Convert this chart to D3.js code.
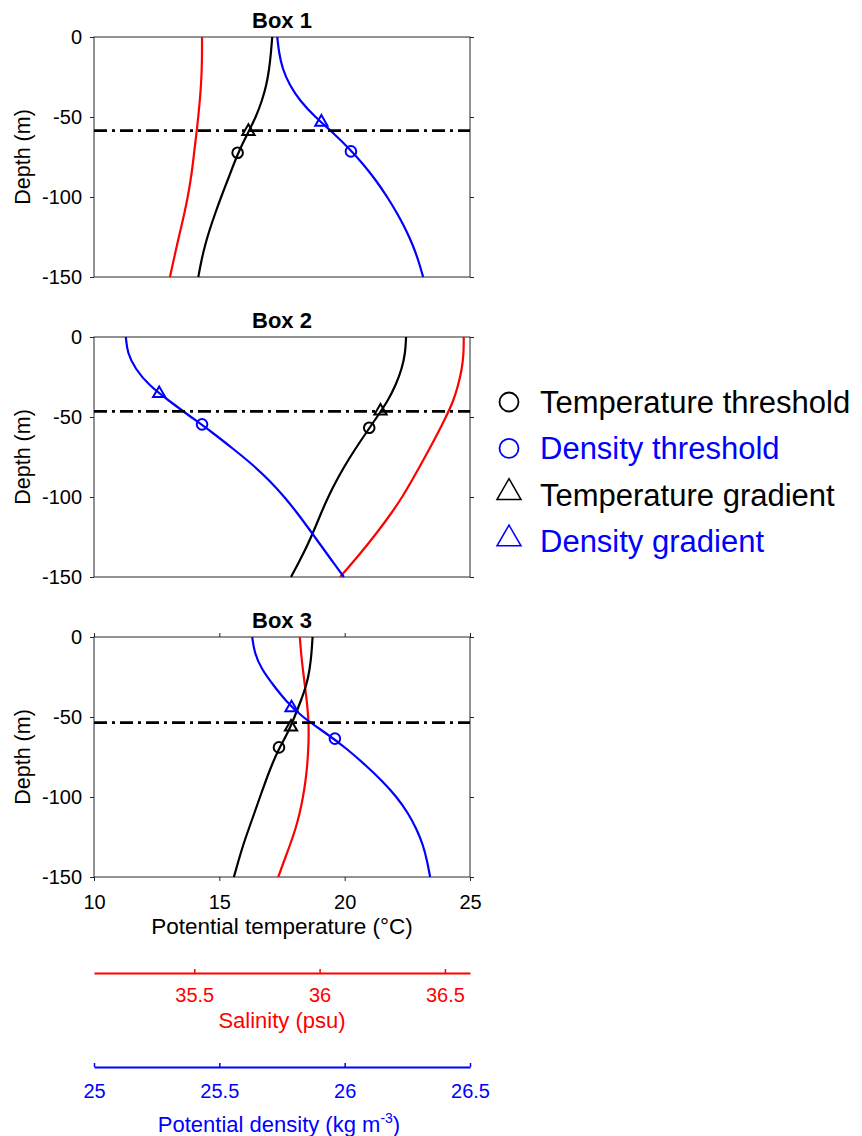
<!DOCTYPE html>
<html lang="en">
  <head>
    <meta charset="utf-8" />
    <title>Mixed layer depth profiles</title>
    <style>
      body {
        margin: 0;
        background: white;
      }
      svg {
        display: block;
        font-family: "Liberation Sans", Arial, Helvetica, sans-serif;
      }
    </style>
    <script src="https://d3js.org/d3.v7.min.js"></script>
  </head>
  <body>
    <svg width="862" height="1136"></svg>
    <script>
      // depth levels (m), same for every box
      var depths = [0, -10, -20, -30, -40, -50, -60, -70, -80, -90, -100, -110, -120, -130, -140, -150];

      // Box 1 profiles
      var box1Temp = [17.11, 17.06, 16.99, 16.88, 16.7, 16.46, 16.14, 15.82, 15.56, 15.32, 15.07, 14.84, 14.62, 14.43, 14.28, 14.16];
      var box1Sal = [35.531, 35.531, 35.53, 35.527, 35.522, 35.516, 35.509, 35.501, 35.494, 35.485, 35.474, 35.461, 35.446, 35.431, 35.417, 35.403];
      var box1Dens = [25.731, 25.738, 25.752, 25.78, 25.822, 25.882, 25.955, 26.02, 26.077, 26.127, 26.17, 26.209, 26.243, 26.272, 26.295, 26.313];

      // Box 2 profiles
      var box2Temp = [22.45, 22.42, 22.28, 22.04, 21.72, 21.29, 20.85, 20.42, 20.02, 19.66, 19.34, 19.06, 18.8, 18.52, 18.2, 17.86];
      var box2Sal = [36.575, 36.575, 36.568, 36.553, 36.534, 36.504, 36.472, 36.438, 36.403, 36.367, 36.33, 36.287, 36.24, 36.19, 36.137, 36.082];
      var box2Dens = [25.127, 25.133, 25.165, 25.218, 25.3, 25.387, 25.475, 25.556, 25.635, 25.702, 25.76, 25.811, 25.858, 25.904, 25.95, 25.997];

      // Box 3 profiles
      var box3Temp = [18.72, 18.68, 18.61, 18.48, 18.25, 18.0, 17.73, 17.37, 17.09, 16.85, 16.62, 16.4, 16.17, 15.95, 15.76, 15.58];
      var box3Sal = [35.921, 35.926, 35.933, 35.941, 35.949, 35.955, 35.957, 35.955, 35.951, 35.944, 35.934, 35.921, 35.904, 35.882, 35.858, 35.835];
      var box3Dens = [25.631, 25.64, 25.668, 25.715, 25.765, 25.83, 25.925, 26.01, 26.083, 26.15, 26.208, 26.253, 26.287, 26.313, 26.329, 26.341];

      var boxNames = ["Box 1", "Box 2", "Box 3"];
      var tempSeries = [box1Temp, box2Temp, box3Temp];
      var salSeries = [box1Sal, box2Sal, box3Sal];
      var densSeries = [box1Dens, box2Dens, box3Dens];

      // mixed layer depth (dash-dot line) per box
      var mldDepths = [-58.5, -46.5, -53.5];

      // markers as [value, depth]
      var tempThreshold = [[15.73, -72.3], [20.98, -56.7], [17.38, -69]];
      var tempGradient = [[16.16, -59], [21.43, -46.3], [17.86, -56.3]];
      var densThreshold = [[26.025, -71.5], [25.431, -54.6], [25.961, -63.5]];
      var densGradient = [[25.907, -53.2], [25.26, -35.3], [25.788, -44.2]];

      // ticks
      var depthTicks = [0, -50, -100, -150];
      var tempTicks = [10, 15, 20, 25];
      var salTicks = [35.5, 36, 36.5];
      var densTicks = [25, 25.5, 26, 26.5];

      var legendLabels = ["Temperature threshold", "Density threshold", "Temperature gradient", "Density gradient"];
      var legendShapes = ["circle", "circle", "triangle", "triangle"];
      var legendColors = ["black", "blue", "black", "blue"];

      var svg = d3.select("svg");

      var left = 94,
        right = 470,
        panelH = 240,
        panelTops = [37, 337, 637];

      var x = d3.scaleLinear().domain([10, 25]).range([left, right]);
      var xSal = d3.scaleLinear().domain([35.1, 36.6]).range([left, right]);
      var xDens = d3.scaleLinear().domain([25, 26.5]).range([left, right]);

      var tri = (size) => d3.symbol().type(d3.symbolTriangle).size(size)();

      boxNames.forEach((name, i) => {
        var top = panelTops[i];
        var y = d3.scaleLinear().domain([0, -150]).range([top, top + panelH]);
        var g = svg.append("g");

        // title
        g.append("text")
          .attr("x", (left + right) / 2)
          .attr("y", top - 9)
          .attr("text-anchor", "middle")
          .attr("font-weight", "bold")
          .attr("font-size", 22)
          .text(name);

        // left axis with labels
        var yl = g.append("g")
          .attr("transform", `translate(${left},0)`)
          .call(d3.axisLeft(y).tickValues(depthTicks).tickSizeInner(4).tickSizeOuter(0).tickPadding(8).tickFormat((d) => String(d)));
        yl.select(".domain").remove();
        yl.selectAll("text").attr("font-size", 20).attr("fill", "black").attr("font-family", null);
        yl.selectAll("line").attr("stroke", "#262626");

        // right axis, ticks only
        var yr = g.append("g")
          .attr("transform", `translate(${right},0)`)
          .call(d3.axisRight(y).tickValues(depthTicks).tickSizeInner(4).tickSizeOuter(0).tickFormat(""));
        yr.select(".domain").remove();
        yr.selectAll("line").attr("stroke", "#262626");

        if (i == 2) {
          var xb = g.append("g")
            .attr("transform", `translate(0,${top + panelH})`)
            .call(d3.axisBottom(x).tickValues(tempTicks).tickSizeInner(4).tickSizeOuter(0).tickPadding(14));
          xb.select(".domain").remove();
          xb.selectAll("text").attr("font-size", 20).attr("fill", "black").attr("font-family", null);
          xb.selectAll("line").attr("stroke", "#262626");

          var xt = g.append("g")
            .attr("transform", `translate(0,${top})`)
            .call(d3.axisTop(x).tickValues(tempTicks).tickSizeInner(4).tickSizeOuter(0).tickFormat(""));
          xt.select(".domain").remove();
          xt.selectAll("line").attr("stroke", "#262626");
        }

        // frame
        g.append("rect")
          .attr("x", left)
          .attr("y", top)
          .attr("width", right - left)
          .attr("height", panelH)
          .attr("fill", "none")
          .attr("stroke", "#262626")
          .attr("stroke-width", 1);

        // y label
        g.append("text")
          .attr("transform", `translate(30,${top + panelH / 2}) rotate(-90)`)
          .attr("text-anchor", "middle")
          .attr("font-size", 21.5)
          .text("Depth (m)");

        // profiles
        var profile = (vals, scale) =>
          d3.line()
            .x((d, k) => scale(vals[k]))
            .y((d) => y(d))
            .curve(d3.curveBasis)(depths);

        g.append("path")
          .attr("d", profile(salSeries[i], xSal))
          .attr("fill", "none")
          .attr("stroke", "red")
          .attr("stroke-width", 2.2);

        g.append("path")
          .attr("d", profile(tempSeries[i], x))
          .attr("fill", "none")
          .attr("stroke", "black")
          .attr("stroke-width", 2.2);

        g.append("path")
          .attr("d", profile(densSeries[i], xDens))
          .attr("fill", "none")
          .attr("stroke", "blue")
          .attr("stroke-width", 2.2);

        // mixed layer depth
        g.append("line")
          .attr("x1", left)
          .attr("x2", right)
          .attr("y1", y(mldDepths[i]))
          .attr("y2", y(mldDepths[i]))
          .attr("stroke", "black")
          .attr("stroke-width", 2.6)
          .attr("stroke-dasharray", "13,5,3,5");

        // markers
        g.append("circle")
          .attr("cx", x(tempThreshold[i][0]))
          .attr("cy", y(tempThreshold[i][1]))
          .attr("r", 5.3)
          .attr("fill", "none")
          .attr("stroke", "black")
          .attr("stroke-width", 2);

        g.append("circle")
          .attr("cx", xDens(densThreshold[i][0]))
          .attr("cy", y(densThreshold[i][1]))
          .attr("r", 5.3)
          .attr("fill", "none")
          .attr("stroke", "blue")
          .attr("stroke-width", 2);

        g.append("path")
          .attr("d", tri(65))
          .attr("transform", `translate(${x(tempGradient[i][0])},${y(tempGradient[i][1])})`)
          .attr("fill", "none")
          .attr("stroke", "black")
          .attr("stroke-width", 2);

        g.append("path")
          .attr("d", tri(65))
          .attr("transform", `translate(${xDens(densGradient[i][0])},${y(densGradient[i][1])})`)
          .attr("fill", "none")
          .attr("stroke", "blue")
          .attr("stroke-width", 2);
      });

      // x label for temperature
      svg.append("text")
        .attr("x", (left + right) / 2)
        .attr("y", 934)
        .attr("text-anchor", "middle")
        .attr("font-size", 22.5)
        .text("Potential temperature (°C)");

      // salinity axis
      var sa = svg.append("g")
        .attr("transform", "translate(0,973)")
        .call(d3.axisBottom(xSal).tickValues(salTicks).tickSizeInner(-4).tickSizeOuter(0).tickPadding(15).tickFormat((d) => String(d)));
      sa.select(".domain").attr("stroke", "red").attr("stroke-width", 2);
      sa.selectAll("line").attr("stroke", "red").attr("stroke-width", 1.5);
      sa.selectAll("text").attr("font-size", 20).attr("fill", "red").attr("font-family", null);

      svg.append("text")
        .attr("x", (left + right) / 2)
        .attr("y", 1028)
        .attr("text-anchor", "middle")
        .attr("font-size", 22)
        .attr("fill", "red")
        .text("Salinity (psu)");

      // density axis
      var da = svg.append("g")
        .attr("transform", "translate(0,1067)")
        .call(d3.axisBottom(xDens).tickValues(densTicks).tickSizeInner(-4).tickSizeOuter(0).tickPadding(17).tickFormat((d) => String(d)));
      da.select(".domain").attr("stroke", "blue").attr("stroke-width", 2);
      da.selectAll("line").attr("stroke", "blue").attr("stroke-width", 1.5);
      da.selectAll("text").attr("font-size", 20).attr("fill", "blue").attr("font-family", null);

      var dl = svg.append("text")
        .attr("x", 279)
        .attr("y", 1132)
        .attr("text-anchor", "middle")
        .attr("font-size", 22)
        .attr("fill", "blue");
      dl.append("tspan").text("Potential density (kg m");
      dl.append("tspan").attr("dy", -9).attr("font-size", 14).text("-3");
      dl.append("tspan").attr("dy", 9).text(")");

      // legend
      var lg = svg.append("g").attr("class", "legend");
      legendLabels.forEach((label, k) => {
        var cy = 402 + k * 46.3;
        if (legendShapes[k] == "circle") {
          lg.append("circle")
            .attr("cx", 509)
            .attr("cy", cy)
            .attr("r", 9.5)
            .attr("fill", "none")
            .attr("stroke", legendColors[k])
            .attr("stroke-width", 1.8);
        } else {
          lg.append("path")
            .attr("d", tri(250))
            .attr("transform", `translate(509,${cy - 2})`)
            .attr("fill", "none")
            .attr("stroke", legendColors[k])
            .attr("stroke-width", 1.5);
        }
        lg.append("text")
          .attr("x", 540)
          .attr("y", cy + 11)
          .attr("font-size", 31)
          .attr("fill", legendColors[k])
          .text(label);
      });
    </script>
  </body>
</html>
